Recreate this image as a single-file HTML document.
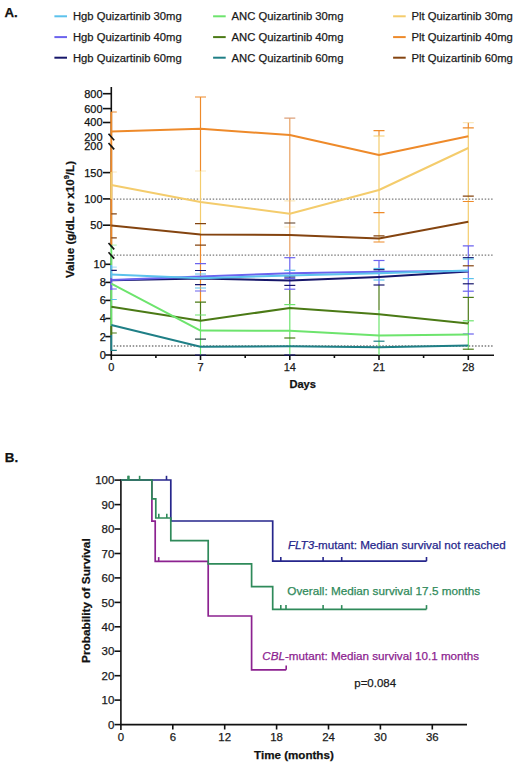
<!DOCTYPE html>
<html><head><meta charset="utf-8"><title>Figure</title>
<style>html,body{margin:0;padding:0;background:#fff;width:520px;height:771px;overflow:hidden}body{position:relative}</style>
</head><body>
<svg width="520" height="771" viewBox="0 0 520 771" style="position:absolute;left:0;top:0">
<rect width="520" height="771" fill="#fff"/>
<g font-family='"Liberation Sans", sans-serif'>
<text x="4.5" y="17" font-size="13.3" font-weight="700" fill="#111" stroke="#111" stroke-width="0.25">A.</text>
<text x="4.8" y="461.8" font-size="13.4" font-weight="700" fill="#111" stroke="#111" stroke-width="0.25">B.</text>
<line x1="54.4" y1="16.3" x2="67.0" y2="16.3" stroke="#5cc2ec" stroke-width="2"/>
<text x="72.9" y="20.1" font-size="11.26" fill="#1a1a1a" stroke="#1a1a1a" stroke-width="0.25">Hgb Quizartinib 30mg</text>
<line x1="54.4" y1="37.1" x2="67.0" y2="37.1" stroke="#6b63ee" stroke-width="2"/>
<text x="72.9" y="40.9" font-size="11.26" fill="#1a1a1a" stroke="#1a1a1a" stroke-width="0.25">Hgb Quizartinib 40mg</text>
<line x1="54.4" y1="57.7" x2="67.0" y2="57.7" stroke="#16166a" stroke-width="2"/>
<text x="72.9" y="61.5" font-size="11.26" fill="#1a1a1a" stroke="#1a1a1a" stroke-width="0.25">Hgb Quizartinib 60mg</text>
<line x1="213.1" y1="16.3" x2="225.7" y2="16.3" stroke="#6de46d" stroke-width="2"/>
<text x="231.5" y="20.1" font-size="11.26" fill="#1a1a1a" stroke="#1a1a1a" stroke-width="0.25">ANC Quizartinib 30mg</text>
<line x1="213.1" y1="37.1" x2="225.7" y2="37.1" stroke="#4b7a16" stroke-width="2"/>
<text x="231.5" y="40.9" font-size="11.26" fill="#1a1a1a" stroke="#1a1a1a" stroke-width="0.25">ANC Quizartinib 40mg</text>
<line x1="213.1" y1="57.7" x2="225.7" y2="57.7" stroke="#1f7f86" stroke-width="2"/>
<text x="231.5" y="61.5" font-size="11.26" fill="#1a1a1a" stroke="#1a1a1a" stroke-width="0.25">ANC Quizartinib 60mg</text>
<line x1="393.1" y1="16.3" x2="405.70000000000005" y2="16.3" stroke="#f4cc6c" stroke-width="2"/>
<text x="411.5" y="20.1" font-size="11.26" fill="#1a1a1a" stroke="#1a1a1a" stroke-width="0.25">Plt Quizartinib 30mg</text>
<line x1="393.1" y1="37.1" x2="405.70000000000005" y2="37.1" stroke="#ee8a2a" stroke-width="2"/>
<text x="411.5" y="40.9" font-size="11.26" fill="#1a1a1a" stroke="#1a1a1a" stroke-width="0.25">Plt Quizartinib 40mg</text>
<line x1="393.1" y1="57.7" x2="405.70000000000005" y2="57.7" stroke="#844410" stroke-width="2"/>
<text x="411.5" y="61.5" font-size="11.26" fill="#1a1a1a" stroke="#1a1a1a" stroke-width="0.25">Plt Quizartinib 60mg</text>
<line x1="113.5" y1="199.1" x2="493" y2="199.1" stroke="#7a7a7a" stroke-width="1.3" stroke-dasharray="1.5 1.7"/>
<line x1="113.5" y1="255.2" x2="493" y2="255.2" stroke="#7a7a7a" stroke-width="1.3" stroke-dasharray="1.5 1.7"/>
<line x1="113.5" y1="346.0" x2="493" y2="346.0" stroke="#7a7a7a" stroke-width="1.3" stroke-dasharray="1.5 1.7"/>
<g stroke="#111" stroke-width="1.6" fill="none">
<line x1="111.3" y1="87" x2="111.3" y2="137"/>
<line x1="111.3" y1="145" x2="111.3" y2="247"/>
<line x1="111.3" y1="254" x2="111.3" y2="356"/>
<line x1="110.5" y1="355.3" x2="494" y2="355.3"/>
<line x1="103.0" y1="93.7" x2="111.3" y2="93.7"/>
<line x1="103.0" y1="108.6" x2="111.3" y2="108.6"/>
<line x1="103.0" y1="122.5" x2="111.3" y2="122.5"/>
<line x1="103.0" y1="172.6" x2="111.3" y2="172.6"/>
<line x1="103.0" y1="198.9" x2="111.3" y2="198.9"/>
<line x1="103.0" y1="225.2" x2="111.3" y2="225.2"/>
<line x1="105.3" y1="264.3" x2="111.3" y2="264.3"/>
<line x1="105.3" y1="282.4" x2="111.3" y2="282.4"/>
<line x1="105.3" y1="300.4" x2="111.3" y2="300.4"/>
<line x1="105.3" y1="318.5" x2="111.3" y2="318.5"/>
<line x1="105.3" y1="336.6" x2="111.3" y2="336.6"/>
<line x1="105.3" y1="355.0" x2="111.3" y2="355.0"/>
<line x1="111.3" y1="355" x2="111.3" y2="360"/>
<line x1="200.5" y1="355" x2="200.5" y2="360"/>
<line x1="289.8" y1="355" x2="289.8" y2="360"/>
<line x1="379.0" y1="355" x2="379.0" y2="360"/>
<line x1="468.3" y1="355" x2="468.3" y2="360"/>
<line x1="155.9" y1="355" x2="155.9" y2="358"/>
<line x1="245.2" y1="355" x2="245.2" y2="358"/>
<line x1="334.4" y1="355" x2="334.4" y2="358"/>
<line x1="423.6" y1="355" x2="423.6" y2="358"/>
</g>
<clipPath id="pa"><rect x="111.3" y="80" width="400" height="285"/></clipPath>
<line x1="111.3" y1="112" x2="111.3" y2="245" stroke="#ee8a2a" stroke-width="1.9"/>
<line x1="111.3" y1="172" x2="111.3" y2="199" stroke="#f4cc6c" stroke-width="1.9"/>
<line x1="111.3" y1="245" x2="111.3" y2="265" stroke="#6de46d" stroke-width="1.9"/>
<line x1="111.3" y1="265" x2="111.3" y2="278" stroke="#5cc2ec" stroke-width="1.9"/>
<line x1="111.3" y1="278" x2="111.3" y2="290" stroke="#6b63ee" stroke-width="1.9"/>
<line x1="111.3" y1="290" x2="111.3" y2="326" stroke="#6de46d" stroke-width="1.9"/>
<line x1="111.3" y1="326" x2="111.3" y2="335" stroke="#4b7a16" stroke-width="1.9"/>
<line x1="111.3" y1="335" x2="111.3" y2="351" stroke="#1f7f86" stroke-width="1.9"/>
<line x1="200.5" y1="97" x2="200.5" y2="171" stroke="#ee8a2a" stroke-width="1.2"/>
<line x1="200.5" y1="171" x2="200.5" y2="235" stroke="#f4cc6c" stroke-width="1.2"/>
<line x1="200.5" y1="235" x2="200.5" y2="302" stroke="#ee8a2a" stroke-width="1.2"/>
<line x1="200.5" y1="302" x2="200.5" y2="320" stroke="#4b7a16" stroke-width="1.2"/>
<line x1="200.5" y1="320" x2="200.5" y2="355" stroke="#6de46d" stroke-width="1.2"/>
<line x1="289.8" y1="118" x2="289.8" y2="257.7" stroke="#e9a262" stroke-width="1.2"/>
<line x1="289.8" y1="257.7" x2="289.8" y2="290" stroke="#6b63ee" stroke-width="1.2"/>
<line x1="289.8" y1="290" x2="289.8" y2="305" stroke="#4b7a16" stroke-width="1.2"/>
<line x1="289.8" y1="305" x2="289.8" y2="355" stroke="#6de46d" stroke-width="1.2"/>
<line x1="379.0" y1="130.7" x2="379.0" y2="136" stroke="#ee8a2a" stroke-width="1.2"/>
<line x1="379.0" y1="136" x2="379.0" y2="242" stroke="#f4cc6c" stroke-width="1.2"/>
<line x1="379.0" y1="260.5" x2="379.0" y2="285" stroke="#6b63ee" stroke-width="1.2"/>
<line x1="379.0" y1="285" x2="379.0" y2="310" stroke="#4b7a16" stroke-width="1.2"/>
<line x1="379.0" y1="310" x2="379.0" y2="355" stroke="#6de46d" stroke-width="1.2"/>
<line x1="468.3" y1="122.7" x2="468.3" y2="128" stroke="#ee8a2a" stroke-width="1.2"/>
<line x1="468.3" y1="128" x2="468.3" y2="246" stroke="#f4cc6c" stroke-width="1.2"/>
<line x1="468.3" y1="246" x2="468.3" y2="297" stroke="#6b63ee" stroke-width="1.2"/>
<line x1="468.3" y1="297" x2="468.3" y2="323.5" stroke="#4b7a16" stroke-width="1.2"/>
<line x1="468.3" y1="323.5" x2="468.3" y2="350" stroke="#6de46d" stroke-width="1.2"/>
<g clip-path="url(#pa)">
<line x1="105.8" y1="112" x2="116.8" y2="112" stroke="#ee8a2a" stroke-width="1.2"/>
<line x1="105.8" y1="172" x2="116.8" y2="172" stroke="#f4cc6c" stroke-width="1.2" stroke-opacity="0.45"/>
<line x1="105.8" y1="213.8" x2="116.8" y2="213.8" stroke="#844410" stroke-width="1.2"/>
<line x1="105.8" y1="237.8" x2="116.8" y2="237.8" stroke="#844410" stroke-width="1.2"/>
<line x1="105.8" y1="245.2" x2="116.8" y2="245.2" stroke="#6de46d" stroke-width="1.2" stroke-opacity="0.45"/>
<line x1="105.8" y1="267.2" x2="116.8" y2="267.2" stroke="#5cc2ec" stroke-width="1.2" stroke-opacity="0.45"/>
<line x1="105.8" y1="270.3" x2="116.8" y2="270.3" stroke="#16166a" stroke-width="1.2"/>
<line x1="105.8" y1="289" x2="116.8" y2="289" stroke="#6b63ee" stroke-width="1.2"/>
<line x1="105.8" y1="299.5" x2="116.8" y2="299.5" stroke="#5cc2ec" stroke-width="1.2"/>
<line x1="105.8" y1="333" x2="116.8" y2="333" stroke="#4b7a16" stroke-width="1.2"/>
<line x1="105.8" y1="350.4" x2="116.8" y2="350.4" stroke="#1f7f86" stroke-width="1.2"/>
<line x1="195.0" y1="97" x2="206.0" y2="97" stroke="#ee8a2a" stroke-width="1.2"/>
<line x1="195.0" y1="171" x2="206.0" y2="171" stroke="#f4cc6c" stroke-width="1.2" stroke-opacity="0.45"/>
<line x1="195.0" y1="223.6" x2="206.0" y2="223.6" stroke="#844410" stroke-width="1.2"/>
<line x1="195.0" y1="245.2" x2="206.0" y2="245.2" stroke="#844410" stroke-width="1.2"/>
<line x1="195.0" y1="263.6" x2="206.0" y2="263.6" stroke="#6b63ee" stroke-width="1.2"/>
<line x1="195.0" y1="270.5" x2="206.0" y2="270.5" stroke="#16166a" stroke-width="1.2"/>
<line x1="195.0" y1="274" x2="206.0" y2="274" stroke="#5cc2ec" stroke-width="1.2"/>
<line x1="195.0" y1="284.6" x2="206.0" y2="284.6" stroke="#16166a" stroke-width="1.2"/>
<line x1="195.0" y1="288" x2="206.0" y2="288" stroke="#5cc2ec" stroke-width="1.2"/>
<line x1="195.0" y1="291" x2="206.0" y2="291" stroke="#6b63ee" stroke-width="1.2"/>
<line x1="195.0" y1="302.1" x2="206.0" y2="302.1" stroke="#4b7a16" stroke-width="1.2"/>
<line x1="195.0" y1="315" x2="206.0" y2="315" stroke="#6de46d" stroke-width="1.2"/>
<line x1="195.0" y1="339.2" x2="206.0" y2="339.2" stroke="#2a4a44" stroke-width="1.2"/>
<line x1="195.0" y1="355" x2="206.0" y2="355" stroke="#16166a" stroke-width="1.2"/>
<line x1="284.3" y1="118.1" x2="295.3" y2="118.1" stroke="#dca07a" stroke-width="1.2"/>
<line x1="284.3" y1="200.8" x2="295.3" y2="200.8" stroke="#f4cc6c" stroke-width="1.2" stroke-opacity="0.45"/>
<line x1="284.3" y1="223" x2="295.3" y2="223" stroke="#5a3a20" stroke-width="1.2"/>
<line x1="284.3" y1="227" x2="295.3" y2="227" stroke="#f4cc6c" stroke-width="1.2" stroke-opacity="0.45"/>
<line x1="284.3" y1="257.7" x2="295.3" y2="257.7" stroke="#6b63ee" stroke-width="1.2"/>
<line x1="284.3" y1="270.3" x2="295.3" y2="270.3" stroke="#5cc2ec" stroke-width="1.2"/>
<line x1="284.3" y1="277" x2="295.3" y2="277" stroke="#16166a" stroke-width="1.2"/>
<line x1="284.3" y1="278.5" x2="295.3" y2="278.5" stroke="#6b63ee" stroke-width="1.2"/>
<line x1="284.3" y1="285.4" x2="295.3" y2="285.4" stroke="#16166a" stroke-width="1.2"/>
<line x1="284.3" y1="289.2" x2="295.3" y2="289.2" stroke="#6b63ee" stroke-width="1.2"/>
<line x1="284.3" y1="304.6" x2="295.3" y2="304.6" stroke="#6de46d" stroke-width="1.2"/>
<line x1="284.3" y1="338" x2="295.3" y2="338" stroke="#4b7a16" stroke-width="1.2"/>
<line x1="284.3" y1="355" x2="295.3" y2="355" stroke="#16166a" stroke-width="1.2"/>
<line x1="373.5" y1="130.7" x2="384.5" y2="130.7" stroke="#ee8a2a" stroke-width="1.2"/>
<line x1="373.5" y1="136" x2="384.5" y2="136" stroke="#f4cc6c" stroke-width="1.2"/>
<line x1="373.5" y1="212.6" x2="384.5" y2="212.6" stroke="#ee8a2a" stroke-width="1.2"/>
<line x1="373.5" y1="235.8" x2="384.5" y2="235.8" stroke="#844410" stroke-width="1.2"/>
<line x1="373.5" y1="242" x2="384.5" y2="242" stroke="#ee8a2a" stroke-width="1.2"/>
<line x1="373.5" y1="260.5" x2="384.5" y2="260.5" stroke="#6b63ee" stroke-width="1.2"/>
<line x1="373.5" y1="268.5" x2="384.5" y2="268.5" stroke="#5cc2ec" stroke-width="1.2"/>
<line x1="373.5" y1="269.7" x2="384.5" y2="269.7" stroke="#16166a" stroke-width="1.2"/>
<line x1="373.5" y1="280" x2="384.5" y2="280" stroke="#5cc2ec" stroke-width="1.2"/>
<line x1="373.5" y1="285" x2="384.5" y2="285" stroke="#16166a" stroke-width="1.2"/>
<line x1="373.5" y1="341.2" x2="384.5" y2="341.2" stroke="#1f7f86" stroke-width="1.2"/>
<line x1="462.8" y1="122.7" x2="473.8" y2="122.7" stroke="#f4cc6c" stroke-width="1.2" stroke-opacity="0.45"/>
<line x1="462.8" y1="127.8" x2="473.8" y2="127.8" stroke="#ee8a2a" stroke-width="1.2"/>
<line x1="462.8" y1="196.2" x2="473.8" y2="196.2" stroke="#844410" stroke-width="1.2"/>
<line x1="462.8" y1="201.5" x2="473.8" y2="201.5" stroke="#ee8a2a" stroke-width="1.2"/>
<line x1="462.8" y1="245.8" x2="473.8" y2="245.8" stroke="#6b63ee" stroke-width="1.2"/>
<line x1="462.8" y1="257.7" x2="473.8" y2="257.7" stroke="#16166a" stroke-width="1.2"/>
<line x1="462.8" y1="259" x2="473.8" y2="259" stroke="#5cc2ec" stroke-width="1.2"/>
<line x1="462.8" y1="265.8" x2="473.8" y2="265.8" stroke="#844410" stroke-width="1.2"/>
<line x1="462.8" y1="278.6" x2="473.8" y2="278.6" stroke="#5cc2ec" stroke-width="1.2"/>
<line x1="462.8" y1="283.8" x2="473.8" y2="283.8" stroke="#16166a" stroke-width="1.2"/>
<line x1="462.8" y1="291.2" x2="473.8" y2="291.2" stroke="#6b63ee" stroke-width="1.2"/>
<line x1="462.8" y1="297.4" x2="473.8" y2="297.4" stroke="#4b7a16" stroke-width="1.2"/>
<line x1="462.8" y1="320.8" x2="473.8" y2="320.8" stroke="#6de46d" stroke-width="1.2"/>
<line x1="462.8" y1="334" x2="473.8" y2="334" stroke="#6b63ee" stroke-width="1.2"/>
<line x1="462.8" y1="349.2" x2="473.8" y2="349.2" stroke="#4b7a16" stroke-width="1.2"/>
</g>
<polyline points="111.3,225.6 200.5,234.6 289.8,235.0 379.0,238.5 468.3,221.7" fill="none" stroke="#844410" stroke-width="2" stroke-linejoin="round"/>
<polyline points="111.3,185.0 200.5,201.9 289.8,213.8 379.0,190.0 468.3,148.0" fill="none" stroke="#f4cc6c" stroke-width="2" stroke-linejoin="round"/>
<polyline points="111.3,131.5 200.5,128.8 289.8,135.0 379.0,155.0 468.3,136.2" fill="none" stroke="#ee8a2a" stroke-width="2" stroke-linejoin="round"/>
<polyline points="111.3,306.7 200.5,320.8 289.8,308.0 379.0,314.3 468.3,323.5" fill="none" stroke="#4b7a16" stroke-width="2" stroke-linejoin="round"/>
<polyline points="111.3,283.6 200.5,330.6 289.8,330.8 379.0,335.4 468.3,334.6" fill="none" stroke="#6de46d" stroke-width="2" stroke-linejoin="round"/>
<polyline points="111.3,325.0 200.5,346.7 289.8,346.2 379.0,347.2 468.3,345.4" fill="none" stroke="#1f7f86" stroke-width="2" stroke-linejoin="round"/>
<polyline points="111.3,280.2 200.5,278.5 289.8,280.5 379.0,277.0 468.3,271.6" fill="none" stroke="#16166a" stroke-width="2" stroke-linejoin="round"/>
<polyline points="111.3,280.0 200.5,276.5 289.8,273.2 379.0,271.8 468.3,271.0" fill="none" stroke="#6b63ee" stroke-width="2" stroke-linejoin="round"/>
<polyline points="111.3,274.4 200.5,278.2 289.8,275.4 379.0,273.2 468.3,270.4" fill="none" stroke="#5cc2ec" stroke-width="2" stroke-linejoin="round"/>
<g stroke="#111" stroke-width="1.6">
<line x1="108.5" y1="133.8" x2="114.2" y2="140.2"/>
<line x1="108.5" y1="143" x2="114.2" y2="149.4"/>
<line x1="108.5" y1="243" x2="114.2" y2="249.4"/>
<line x1="108.5" y1="252.3" x2="114.2" y2="258.6"/>
</g>
<text x="102.6" y="97.6" font-size="11" text-anchor="end" fill="#111" stroke="#111" stroke-width="0.25">800</text>
<text x="102.6" y="112.5" font-size="11" text-anchor="end" fill="#111" stroke="#111" stroke-width="0.25">600</text>
<text x="102.6" y="126.4" font-size="11" text-anchor="end" fill="#111" stroke="#111" stroke-width="0.25">400</text>
<text x="102.6" y="141.1" font-size="11" text-anchor="end" fill="#111" stroke="#111" stroke-width="0.25">200</text>
<text x="102.6" y="149.9" font-size="11" text-anchor="end" fill="#111" stroke="#111" stroke-width="0.25">200</text>
<text x="102.6" y="176.5" font-size="11" text-anchor="end" fill="#111" stroke="#111" stroke-width="0.25">150</text>
<text x="102.6" y="202.8" font-size="11" text-anchor="end" fill="#111" stroke="#111" stroke-width="0.25">100</text>
<text x="102.6" y="229.1" font-size="11" text-anchor="end" fill="#111" stroke="#111" stroke-width="0.25">50</text>
<text x="105.8" y="268.2" font-size="11" text-anchor="end" fill="#111" stroke="#111" stroke-width="0.25">10</text>
<text x="105.8" y="286.3" font-size="11" text-anchor="end" fill="#111" stroke="#111" stroke-width="0.25">8</text>
<text x="105.8" y="304.3" font-size="11" text-anchor="end" fill="#111" stroke="#111" stroke-width="0.25">6</text>
<text x="105.8" y="322.4" font-size="11" text-anchor="end" fill="#111" stroke="#111" stroke-width="0.25">4</text>
<text x="105.8" y="340.5" font-size="11" text-anchor="end" fill="#111" stroke="#111" stroke-width="0.25">2</text>
<text x="105.8" y="358.9" font-size="11" text-anchor="end" fill="#111" stroke="#111" stroke-width="0.25">0</text>
<text x="111.3" y="370.8" font-size="11" text-anchor="middle" fill="#1a1a1a" stroke="#1a1a1a" stroke-width="0.25">0</text>
<text x="200.5" y="370.8" font-size="11" text-anchor="middle" fill="#1a1a1a" stroke="#1a1a1a" stroke-width="0.25">7</text>
<text x="289.8" y="370.8" font-size="11" text-anchor="middle" fill="#1a1a1a" stroke="#1a1a1a" stroke-width="0.25">14</text>
<text x="379.0" y="370.8" font-size="11" text-anchor="middle" fill="#1a1a1a" stroke="#1a1a1a" stroke-width="0.25">21</text>
<text x="468.3" y="370.8" font-size="11" text-anchor="middle" fill="#1a1a1a" stroke="#1a1a1a" stroke-width="0.25">28</text>
<text x="289.4" y="388" font-size="11.1" font-weight="700" fill="#111" stroke="#111" stroke-width="0.25">Days</text>
<text transform="translate(74,219.5) rotate(-90)" font-size="11.55" font-weight="700" fill="#111" text-anchor="middle" stroke="#111" stroke-width="0.25">Value (g/dL or x10<tspan font-size="7.6" dy="-4.6">9</tspan><tspan dy="4.6">/L)</tspan></text>
<g stroke="#111" stroke-width="1.6" fill="none">
<line x1="120.9" y1="479.3" x2="120.9" y2="730"/>
<line x1="120.10000000000001" y1="724.6" x2="467" y2="724.6"/>
<line x1="114.5" y1="724.6" x2="120.9" y2="724.6"/>
<line x1="114.5" y1="700.1" x2="120.9" y2="700.1"/>
<line x1="114.5" y1="675.7" x2="120.9" y2="675.7"/>
<line x1="114.5" y1="651.2" x2="120.9" y2="651.2"/>
<line x1="114.5" y1="626.8" x2="120.9" y2="626.8"/>
<line x1="114.5" y1="602.4" x2="120.9" y2="602.4"/>
<line x1="114.5" y1="577.9" x2="120.9" y2="577.9"/>
<line x1="114.5" y1="553.5" x2="120.9" y2="553.5"/>
<line x1="114.5" y1="529.0" x2="120.9" y2="529.0"/>
<line x1="114.5" y1="504.6" x2="120.9" y2="504.6"/>
<line x1="114.5" y1="480.1" x2="120.9" y2="480.1"/>
<line x1="172.8" y1="724.6" x2="172.8" y2="729.5"/>
<line x1="224.7" y1="724.6" x2="224.7" y2="729.5"/>
<line x1="276.6" y1="724.6" x2="276.6" y2="729.5"/>
<line x1="328.5" y1="724.6" x2="328.5" y2="729.5"/>
<line x1="380.4" y1="724.6" x2="380.4" y2="729.5"/>
<line x1="432.3" y1="724.6" x2="432.3" y2="729.5"/>
</g>
<text x="114.4" y="728.7" font-size="11.5" text-anchor="end" fill="#1a1a1a" stroke="#1a1a1a" stroke-width="0.25">0</text>
<text x="114.4" y="704.2" font-size="11.5" text-anchor="end" fill="#1a1a1a" stroke="#1a1a1a" stroke-width="0.25">10</text>
<text x="114.4" y="679.8" font-size="11.5" text-anchor="end" fill="#1a1a1a" stroke="#1a1a1a" stroke-width="0.25">20</text>
<text x="114.4" y="655.4" font-size="11.5" text-anchor="end" fill="#1a1a1a" stroke="#1a1a1a" stroke-width="0.25">30</text>
<text x="114.4" y="630.9" font-size="11.5" text-anchor="end" fill="#1a1a1a" stroke="#1a1a1a" stroke-width="0.25">40</text>
<text x="114.4" y="606.5" font-size="11.5" text-anchor="end" fill="#1a1a1a" stroke="#1a1a1a" stroke-width="0.25">50</text>
<text x="114.4" y="582.0" font-size="11.5" text-anchor="end" fill="#1a1a1a" stroke="#1a1a1a" stroke-width="0.25">60</text>
<text x="114.4" y="557.6" font-size="11.5" text-anchor="end" fill="#1a1a1a" stroke="#1a1a1a" stroke-width="0.25">70</text>
<text x="114.4" y="533.1" font-size="11.5" text-anchor="end" fill="#1a1a1a" stroke="#1a1a1a" stroke-width="0.25">80</text>
<text x="114.4" y="508.7" font-size="11.5" text-anchor="end" fill="#1a1a1a" stroke="#1a1a1a" stroke-width="0.25">90</text>
<text x="114.4" y="484.2" font-size="11.5" text-anchor="end" fill="#1a1a1a" stroke="#1a1a1a" stroke-width="0.25">100</text>
<text x="120.9" y="741" font-size="11.4" text-anchor="middle" fill="#1a1a1a" stroke="#1a1a1a" stroke-width="0.25">0</text>
<text x="172.8" y="741" font-size="11.4" text-anchor="middle" fill="#1a1a1a" stroke="#1a1a1a" stroke-width="0.25">6</text>
<text x="224.7" y="741" font-size="11.4" text-anchor="middle" fill="#1a1a1a" stroke="#1a1a1a" stroke-width="0.25">12</text>
<text x="276.6" y="741" font-size="11.4" text-anchor="middle" fill="#1a1a1a" stroke="#1a1a1a" stroke-width="0.25">18</text>
<text x="328.5" y="741" font-size="11.4" text-anchor="middle" fill="#1a1a1a" stroke="#1a1a1a" stroke-width="0.25">24</text>
<text x="380.4" y="741" font-size="11.4" text-anchor="middle" fill="#1a1a1a" stroke="#1a1a1a" stroke-width="0.25">30</text>
<text x="432.3" y="741" font-size="11.4" text-anchor="middle" fill="#1a1a1a" stroke="#1a1a1a" stroke-width="0.25">36</text>
<text x="254.1" y="759" font-size="11.6" font-weight="700" fill="#111" stroke="#111" stroke-width="0.25">Time (months)</text>
<text transform="translate(90.2,600.6) rotate(-90)" font-size="11.8" font-weight="700" fill="#111" text-anchor="middle" stroke="#111" stroke-width="0.25">Probability of Survival</text>
<polyline points="120.9,480.0 151.9,480.0 151.9,521.2 155.2,521.2 155.2,561.3 208.2,561.3 208.2,616.0 251.6,616.0 251.6,669.8 286.2,669.8" fill="none" stroke="#8c2290" stroke-width="1.7"/>
<polyline points="120.9,480.0 170.8,480.0 170.8,521.0 272.7,521.0 272.7,561.2 426.5,561.2" fill="none" stroke="#26268c" stroke-width="1.7"/>
<polyline points="120.9,480.0 151.9,480.0 151.9,498.8 155.8,498.8 155.8,518.0 170.8,518.0 170.8,540.7 208.2,540.7 208.2,563.8 251.6,563.8 251.6,586.6 272.7,586.6 272.7,609.3 426.5,609.3" fill="none" stroke="#2f8a5a" stroke-width="1.7"/>
<line x1="128.0" y1="480" x2="128.0" y2="475.8" stroke="#2f8a5a" stroke-width="1.6"/>
<line x1="128.9" y1="480" x2="128.9" y2="475.8" stroke="#2f8a5a" stroke-width="1.6"/>
<line x1="139.6" y1="480" x2="139.6" y2="475.8" stroke="#2f8a5a" stroke-width="1.6"/>
<line x1="166.5" y1="480" x2="166.5" y2="475.8" stroke="#26268c" stroke-width="1.6"/>
<line x1="158.8" y1="518.0" x2="158.8" y2="513.8" stroke="#2f8a5a" stroke-width="1.6"/>
<line x1="166.8" y1="518.0" x2="166.8" y2="513.8" stroke="#2f8a5a" stroke-width="1.6"/>
<line x1="280.8" y1="561.2" x2="280.8" y2="557.0" stroke="#26268c" stroke-width="1.6"/>
<line x1="323.1" y1="561.2" x2="323.1" y2="557.0" stroke="#26268c" stroke-width="1.6"/>
<line x1="341.7" y1="561.2" x2="341.7" y2="557.0" stroke="#26268c" stroke-width="1.6"/>
<line x1="426.5" y1="561.2" x2="426.5" y2="557.0" stroke="#26268c" stroke-width="1.6"/>
<line x1="280.8" y1="609.3" x2="280.8" y2="605.0999999999999" stroke="#2f8a5a" stroke-width="1.6"/>
<line x1="286.0" y1="609.3" x2="286.0" y2="605.0999999999999" stroke="#2f8a5a" stroke-width="1.6"/>
<line x1="323.1" y1="609.3" x2="323.1" y2="605.0999999999999" stroke="#2f8a5a" stroke-width="1.6"/>
<line x1="341.7" y1="609.3" x2="341.7" y2="605.0999999999999" stroke="#2f8a5a" stroke-width="1.6"/>
<line x1="426.5" y1="609.3" x2="426.5" y2="605.0999999999999" stroke="#2f8a5a" stroke-width="1.6"/>
<line x1="158.7" y1="561.3" x2="158.7" y2="557.0999999999999" stroke="#8c2290" stroke-width="1.6"/>
<line x1="286.2" y1="669.8" x2="286.2" y2="665.5999999999999" stroke="#8c2290" stroke-width="1.6"/>
<text x="287.9" y="549" font-size="11.65" fill="#26268c" stroke="#26268c" stroke-width="0.25"><tspan font-style="italic">FLT3</tspan>-mutant: Median survival not reached</text>
<text x="287.3" y="594.5" font-size="11.73" fill="#2f8a5a" stroke="#2f8a5a" stroke-width="0.25">Overall: Median survival 17.5 months</text>
<text x="262.3" y="659.6" font-size="11.65" fill="#8c2290" stroke="#8c2290" stroke-width="0.25"><tspan font-style="italic">CBL</tspan>-mutant: Median survival 10.1 months</text>
<text x="354.3" y="686.7" font-size="11.47" fill="#1a1a1a" stroke="#1a1a1a" stroke-width="0.25">p=0.084</text>
</g></svg>
</body></html>
